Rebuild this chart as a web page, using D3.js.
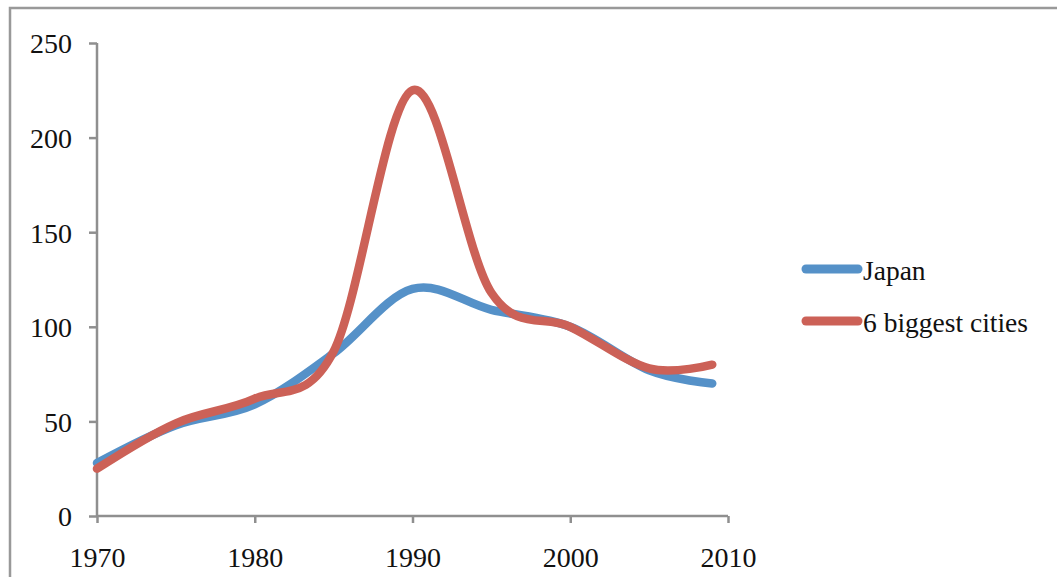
<!DOCTYPE html>
<html><head><meta charset="utf-8">
<script src="https://cdn.jsdelivr.net/npm/d3@7"></script>
<style>html,body{margin:0;padding:0;background:#fff;}svg{display:block;}</style>
</head><body>
<svg id="chart" width="1057" height="577"></svg>
<script>
const years = [1970, 1975, 1980, 1985, 1990, 1995, 2000, 2005, 2009];
const japan = [28, 48, 59, 86, 120, 109, 100, 77, 70];
const cities = [25, 49, 62, 87, 225, 118, 100, 78, 80];
const seriesNames = ["Japan", "6 biggest cities"];
const seriesColors = ["#5591c8", "#cc6157"];
const xTicks = [1970, 1980, 1990, 2000, 2010];
const yTicks = [0, 50, 100, 150, 200, 250];

const svg = d3.select("#chart");
const font = "'Liberation Serif', 'Times New Roman', serif";
const axisColor = "#8f8f8f";

// outer frame (top & left visible)
svg.append("path").attr("d", "M10,600 L10,8 L1060,8")
  .attr("fill", "none").attr("stroke", "#999").attr("stroke-width", 2.5);

const x = d3.scaleLinear().domain([1970, 2010]).range([97, 728]);
const y = d3.scaleLinear().domain([0, 250]).range([516, 43]);

// y axis
const yAxis = svg.append("g").attr("transform", "translate(97,0)")
  .call(d3.axisLeft(y).tickValues(yTicks).tickSize(8).tickPadding(17));
// x axis
const xAxis = svg.append("g").attr("transform", "translate(0,516)")
  .call(d3.axisBottom(x).tickValues(xTicks).tickFormat(d3.format("d")).tickSize(7).tickPadding(19));

[yAxis, xAxis].forEach(g => {
  g.select(".domain").attr("stroke", axisColor).attr("stroke-width", 2.5)
    .attr("d", g === yAxis ? "M0,43V516" : "M97,0H728");
  g.selectAll(".tick line").attr("stroke", axisColor).attr("stroke-width", 2.5);
  g.selectAll(".tick text").attr("fill", "#111").style("font-family", font).style("font-size", "28px");
});
yAxis.selectAll(".tick text").attr("dy", "0.35em");
xAxis.selectAll(".tick text").attr("dy", "0.9em");

const line = d3.line().x((d, i) => x(years[i])).y(d => y(d)).curve(d3.curveCardinal.tension(0));

[japan, cities].forEach((s, k) => {
  svg.append("path").datum(s).attr("d", line)
    .attr("fill", "none").attr("stroke", seriesColors[k])
    .attr("stroke-width", 8.5).attr("stroke-linecap", "round").attr("stroke-linejoin", "round");
});

// legend
const legendY = [269, 321];
seriesNames.forEach((n, k) => {
  svg.append("line").attr("x1", 806).attr("x2", 858)
    .attr("y1", legendY[k]).attr("y2", legendY[k])
    .attr("stroke", seriesColors[k]).attr("stroke-width", 9).attr("stroke-linecap", "round");
  svg.append("text").attr("x", 863).attr("y", legendY[k] + 11)
    .attr("fill", "#111").style("font-family", font).style("font-size", "27.5px").text(n);
});
</script>
</body></html>
